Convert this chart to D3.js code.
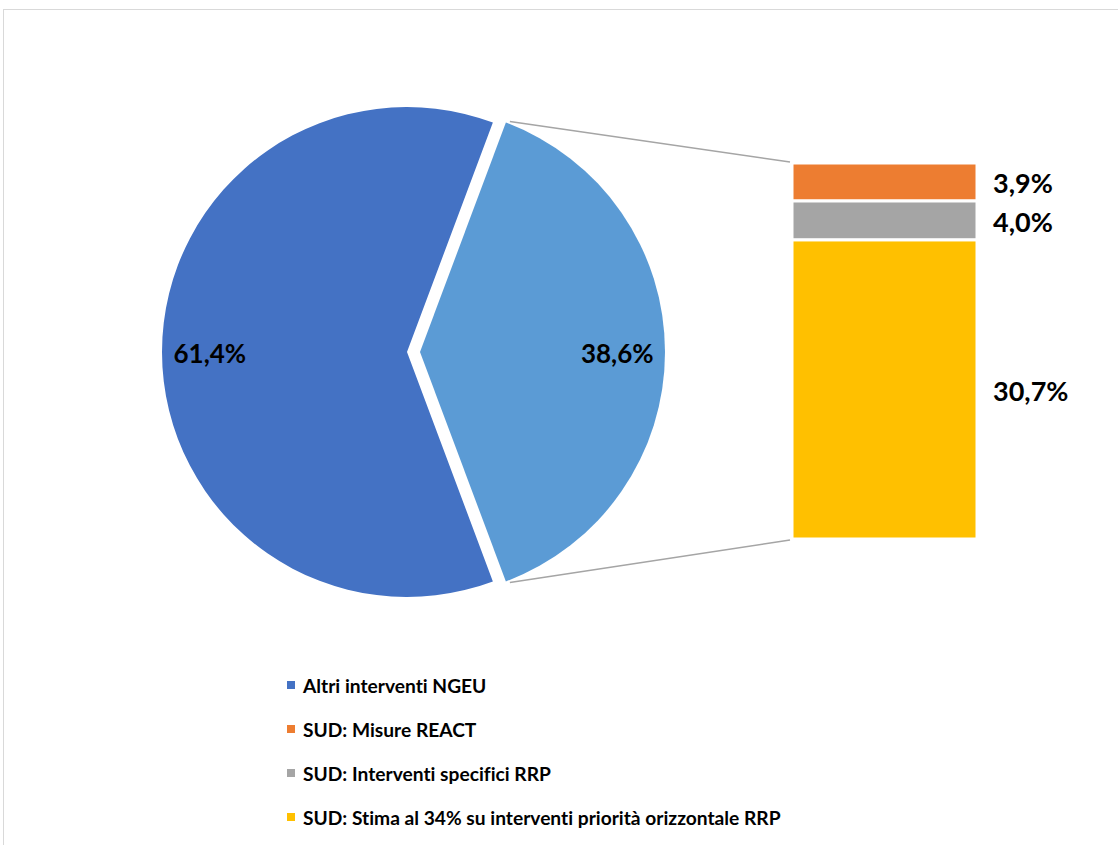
<!DOCTYPE html>
<html>
<head>
<meta charset="utf-8">
<script src="https://cdn.jsdelivr.net/npm/d3@7"></script>
<style>
  html, body { margin: 0; padding: 0; background: #fff; }
  svg { display: block; }
  text { font-family: Lato, "Open Sans", sans-serif; font-weight: bold; fill: #000; font-variant-ligatures: none; font-feature-settings: "liga" 0, "clig" 0; }
</style>
</head>
<body>
<svg id="chart" width="1118" height="845"></svg>
<script>
// ---- data ----
const pieCategories = ["Altri interventi NGEU", "SUD"];
const pieValues = [61.4, 38.6];
const pieLabels = ["61,4%", "38,6%"];
const barCategories = ["SUD: Misure REACT", "SUD: Interventi specifici RRP", "SUD: Stima al 34% su interventi priorità orizzontale RRP"];
const barValues = [3.9, 4.0, 30.7];
const barLabels = ["3,9%", "4,0%", "30,7%"];
const legendCategories = ["Altri interventi NGEU", "SUD: Misure REACT", "SUD: Interventi specifici RRP", "SUD: Stima al 34% su interventi priorità orizzontale RRP"];
const colors = ["#4472C4", "#ED7D31", "#A5A5A5", "#FFC000"];
const pieColors = ["#4472C4", "#5B9BD5"];

const svg = d3.select("#chart");

// chart area border
svg.append("rect")
  .attr("x", 3.5).attr("y", 9.5)
  .attr("width", 1130).attr("height", 850)
  .attr("fill", "none").attr("stroke", "#D9D9D9").attr("stroke-width", 1);

// ---- pie ----
const cx = 413.5, cy = 352, R = 245;
const explode = [6.5, 6.5];
const total = d3.sum(pieValues);
const otherShare = pieValues[1] / total;
const start = Math.PI / 2 + otherShare * Math.PI;
const pie = d3.pie().sort(null).startAngle(start).endAngle(start + 2 * Math.PI);
const arcs = pie(pieValues);
const arc = d3.arc().innerRadius(0).outerRadius(R);
const labelArc = d3.arc().innerRadius(R * 0.805).outerRadius(R * 0.805);

const pieG = svg.append("g").attr("transform", `translate(${cx},${cy})`);
arcs.forEach((a, i) => {
  const mid = (a.startAngle + a.endAngle) / 2;
  const dx = Math.sin(mid) * explode[i], dy = -Math.cos(mid) * explode[i];
  const g = pieG.append("g").attr("transform", `translate(${dx},${dy})`);
  g.append("path").attr("d", arc(a)).attr("fill", pieColors[i]);
  const c = labelArc.centroid(a);
  g.append("text")
    .attr("x", c[0]).attr("y", c[1] + 1)
    .attr("text-anchor", "middle").attr("dominant-baseline", "central")
    .attr("font-size", 26)
    .text(pieLabels[i]);
});

// ---- bar ----
const barX0 = 792, barX1 = 977;
const y = d3.scaleLinear().domain([0, d3.sum(barValues)]).range([163, 539]);
let cum = 0;
const stack = barValues.map((v, i) => { const s = { i, v, y0: cum, y1: cum + v }; cum += v; return s; });
const barG = svg.append("g");
barG.selectAll("rect").data(stack).join("rect")
  .attr("x", barX0).attr("width", barX1 - barX0)
  .attr("y", d => y(d.y0)).attr("height", d => y(d.y1) - y(d.y0))
  .attr("fill", d => colors[d.i + 1])
  .attr("stroke", "#fff").attr("stroke-width", 3);
barG.selectAll("text").data(stack).join("text")
  .attr("x", 993)
  .attr("y", d => (y(d.y0) + y(d.y1)) / 2 + 1)
  .attr("dominant-baseline", "central")
  .attr("font-size", 27)
  .text(d => barLabels[d.i]);

// ---- connector lines ----
const other = arcs[1];
const midO = (other.startAngle + other.endAngle) / 2;
const ox = cx + Math.sin(midO) * explode[1], oy = cy - Math.cos(midO) * explode[1];
const p1 = [ox + Math.sin(other.startAngle) * R, oy - Math.cos(other.startAngle) * R];
const p2 = [ox + Math.sin(other.endAngle) * R, oy - Math.cos(other.endAngle) * R];
svg.append("line")
  .attr("x1", p1[0] + 4).attr("y1", p1[1] - 1).attr("x2", barX0 - 2).attr("y2", y(0) - 1)
  .attr("stroke", "#A5A5A5").attr("stroke-width", 1.5);
svg.append("line")
  .attr("x1", p2[0] + 4).attr("y1", p2[1] + 1).attr("x2", barX0 - 2).attr("y2", y(d3.sum(barValues)) + 1)
  .attr("stroke", "#A5A5A5").attr("stroke-width", 1.5);

// ---- legend ----
const legY = d3.scalePoint().domain(legendCategories).range([685, 817]);
const leg = svg.append("g").selectAll("g").data(legendCategories).join("g")
  .attr("transform", d => `translate(287,${legY(d)})`);
leg.append("rect").attr("x", 0).attr("y", -4).attr("width", 8).attr("height", 8)
  .attr("fill", (d, i) => colors[i]);
leg.append("text").attr("x", 16).attr("y", 0)
  .attr("dominant-baseline", "central")
  .attr("font-size", 19.2)
  .text(d => d);
</script>
</body>
</html>
